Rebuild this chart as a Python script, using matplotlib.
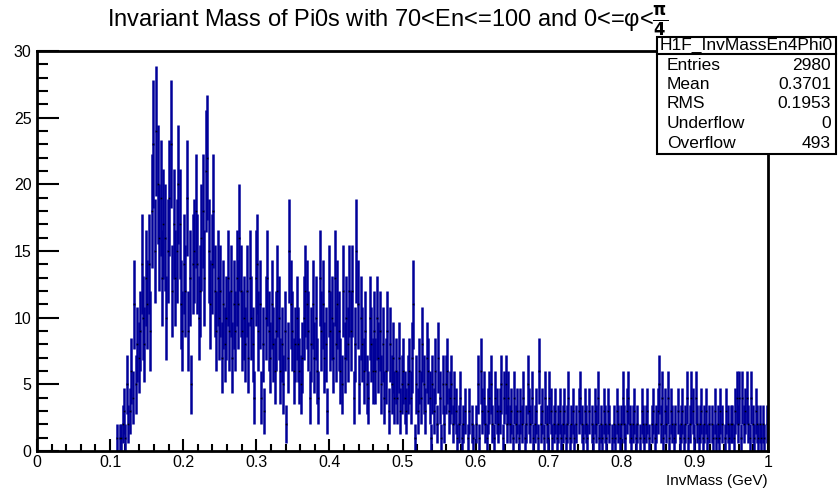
import numpy as np
import matplotlib
matplotlib.use('Agg')
import matplotlib.pyplot as plt
from matplotlib.patches import Rectangle
from matplotlib.ticker import MultipleLocator

plt.rcParams['font.family'] = ['Liberation Sans Narrow', 'Liberation Sans', 'DejaVu Sans']
plt.rcParams['mathtext.fontset'] = 'custom'
plt.rcParams['mathtext.rm'] = 'Liberation Sans'
plt.rcParams['mathtext.it'] = 'Liberation Sans:italic'

# histogram: 500 bins of 0.002 GeV on [0, 1]; counts
bin_width = 0.002
first_bin = 0.108   # first filled bin low edge, everything below is empty

counts_peak = [  # 0.108 - 0.300
    1, 0, 1, 1, 2, 3, 1, 5, 2, 3,
    6, 4, 11, 5, 8, 7, 9, 14, 10, 8,
    13, 11, 14, 9, 18, 23, 15, 24, 20, 16,
    19, 13, 17, 16, 10, 15, 19, 23, 12, 17,
    13, 15, 20, 17, 11, 9, 14, 12, 19, 9,
    13, 5, 14, 15, 18, 14, 10, 12, 16, 18,
    13, 21, 22, 15, 11, 14, 18, 12, 9, 13,
    10, 12, 7, 11, 8, 10, 13, 9, 12, 7,
    11, 9, 13, 11, 16, 12, 9, 10, 8, 12,
    7, 13, 10, 8, 4, 13,
]
counts_mid = [  # 0.300 - 0.600
    14, 9, 11, 4, 8, 3, 10, 13, 9, 7,
    11, 8, 6, 9, 12, 10, 6, 8, 5, 9,
    2, 7, 15, 11, 9, 6, 8, 10, 8, 6,
    5, 7, 10, 12, 11, 9, 4, 8, 11, 7,
    10, 6, 4, 13, 9, 11, 7, 8, 3, 12,
    9, 10, 7, 13, 8, 11, 9, 6, 5, 12,
    7, 10, 8, 12, 9, 12, 4, 8, 15, 11,
    5, 10, 8, 6, 9, 5, 4, 10, 8, 6,
    9, 6, 10, 7, 9, 5, 8, 4, 6, 9,
    3, 8, 5, 7, 4, 6, 4, 7, 3, 5,
    6, 4, 3, 5, 6, 4, 7, 11, 1, 5,
    3, 6, 4, 8, 5, 3, 7, 6, 4, 1,
    5, 3, 6, 2, 7, 4, 1, 5, 2, 5,
    6, 3, 4, 5, 2, 4, 3, 1, 2, 4,
    1, 2, 3, 0, 1, 3, 0, 2, 1, 0,
]
counts_tail = [  # 0.600 - 1.000
    2, 5, 1, 6, 3, 4, 2, 1, 3, 4,
    5, 2, 1, 4, 3, 2, 3, 5, 1, 4,
    5, 2, 4, 2, 3, 1, 4, 2, 3, 1,
    3, 2, 4, 1, 2, 5, 3, 2, 4, 1,
    2, 3, 1, 6, 2, 3, 1, 4, 2, 1,
    4, 3, 1, 2, 3, 1, 2, 3, 1, 2,
    3, 1, 2, 4, 1, 2, 3, 1, 2, 0,
    3, 4, 2, 1, 3, 2, 1, 3, 0, 2,
    1, 3, 2, 4, 1, 2, 1, 3, 2, 1,
    3, 2, 0, 1, 2, 1, 3, 2, 1, 2,
    4, 2, 1, 3, 4, 2, 1, 2, 3, 1,
    2, 0, 1, 3, 2, 1, 2, 3, 1, 0,
    2, 3, 1, 2, 3, 5, 2, 4, 1, 3,
    2, 4, 1, 3, 2, 1, 2, 0, 3, 1,
    2, 3, 1, 2, 4, 1, 2, 4, 3, 1,
    4, 2, 1, 2, 3, 1, 2, 3, 1, 2,
    0, 2, 1, 3, 1, 2, 1, 3, 2, 0,
    1, 3, 2, 1, 2, 2, 1, 3, 4, 2,
    4, 1, 4, 2, 3, 4, 2, 1, 4, 2,
    1, 3, 2, 1, 2, 1, 2, 1, 0, 2,
]

stats_name = 'H1F_InvMassEn4Phi0'
stats_rows = [('Entries', '2980'), ('Mean', '0.3701'), ('RMS', '0.1953'),
              ('Underflow', '0'), ('Overflow', '493')]

counts = np.array(counts_peak + counts_mid + counts_tail, dtype=float)
lo = first_bin + bin_width * np.arange(len(counts))
hi = lo + bin_width
mid = lo + bin_width / 2
m = counts > 0
err = np.sqrt(counts)

W, H = 838, 491
fig = plt.figure(figsize=(W / 100, H / 100), dpi=100)
ax = fig.add_axes([37 / W, 1 - 451 / H, (768 - 37) / W, (451 - 51) / H])

blue = '#000099'
ax.vlines(mid[m], counts[m] - err[m], counts[m] + err[m], color=blue, lw=1.8)
ax.hlines(counts[m], lo[m], hi[m], color=blue, lw=1.8)
ax.plot(mid[m], counts[m], 's', ms=1.1, color='k', mew=0)

ax.set_xlim(0, 1)
ax.set_ylim(0, 30)
ax.xaxis.set_major_locator(MultipleLocator(0.1))
ax.xaxis.set_minor_locator(MultipleLocator(0.02))
ax.yaxis.set_major_locator(MultipleLocator(5))
ax.yaxis.set_minor_locator(MultipleLocator(1))
ax.xaxis.set_major_formatter(plt.FuncFormatter(lambda v, p: '%g' % round(v, 2)))
ax.tick_params(axis='x', which='major', direction='in', length=9, width=1.5, labelsize=11.5, pad=3)
ax.tick_params(axis='x', which='minor', direction='in', length=5, width=1.5)
ax.tick_params(axis='y', which='major', direction='in', length=16, width=1.5, labelsize=11.5, pad=4)
ax.tick_params(axis='y', which='minor', direction='in', length=8, width=1.5)
for s in ax.spines.values():
    s.set_linewidth(2)

fig.text(768 / W, 1 - 481 / H, 'InvMass (GeV)', ha='right', va='center', fontsize=11)
fig.text(388 / W, 1 - 22 / H,
         'Invariant Mass of Pi0s with 70<En<=100 and 0<=\u03c6<' + r'$\mathbf{\frac{\pi}{4}}$',
         ha='center', va='center', fontsize=17)

# stats box
x0, x1, y0, y1 = 657, 836, 37, 154
fig.patches.append(Rectangle((x0 / W, 1 - y1 / H), (x1 - x0) / W, (y1 - y0) / H,
                             transform=fig.transFigure, facecolor='white',
                             edgecolor='black', lw=1.5, zorder=5))
fig.lines.append(plt.Line2D([x0 / W, x1 / W], [1 - 54 / H, 1 - 54 / H],
                            transform=fig.transFigure, color='black', lw=1.5, zorder=6))
fig.text((x0 + x1) / 2 / W, 1 - 45 / H, stats_name, ha='center', va='center',
         fontsize=12.5, zorder=7)
for i, (k, v) in enumerate(stats_rows):
    yy = 1 - (65 + 19.5 * i) / H
    fig.text(667 / W, yy, k, ha='left', va='center', fontsize=12.5, zorder=7)
    fig.text(831 / W, yy, v, ha='right', va='center', fontsize=12.5, zorder=7)

fig.savefig('out.png', dpi=100)
